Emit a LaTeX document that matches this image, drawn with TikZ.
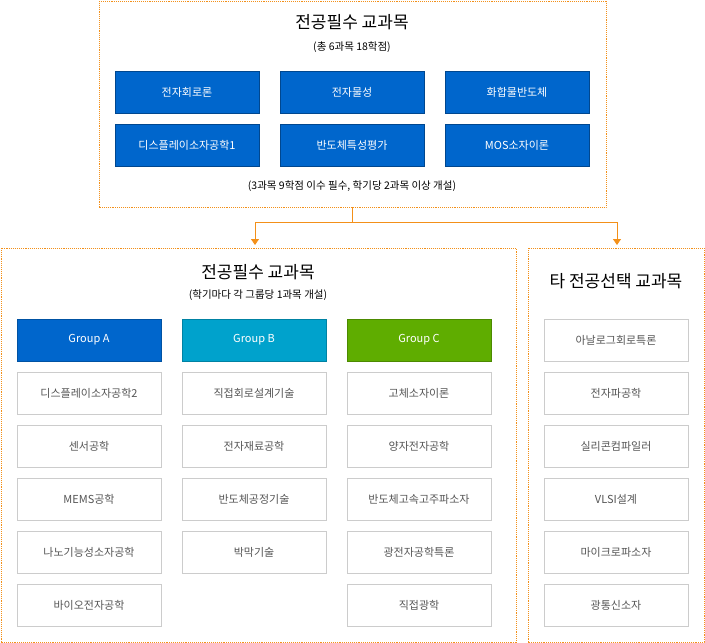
\documentclass[tikz,border=0pt]{standalone}
\usepackage{fontspec}
\setmainfont{Noto Sans CJK KR}
\usetikzlibrary{positioning, arrows.meta}
\definecolor{corange}{HTML}{F39019}
\definecolor{cblue}{HTML}{0066CC}
\definecolor{ccyan}{HTML}{00A2CC}
\definecolor{cgreen}{HTML}{5FAD00}
\definecolor{cgrey}{HTML}{CCCCCC}
\definecolor{ctext}{HTML}{555555}

\begin{document}
\begin{tikzpicture}[x=1pt, y=-1pt,
        frame/.style={draw=corange, densely dotted, line width=0.9pt},
        core/.style={draw=cblue!70!black, fill=cblue, text=white, minimum width=144pt, minimum height=42pt, font=\fontsize{11}{13}\selectfont, inner sep=0pt},
        grp/.style={core, draw=#1!80!black, fill=#1},
        item/.style={draw=cgrey, line width=0.8pt, text=ctext, minimum width=144pt, minimum height=42pt, font=\fontsize{11}{13}\selectfont, inner sep=0pt},
        title/.style={font=\fontsize{17}{20}\selectfont},
        note/.style={font=\fontsize{10.5}{12}\selectfont},
        >={Triangle[width=8pt, length=6pt]}]

        \useasboundingbox (0,0) rectangle (705,643);

        % 상단 박스
        \draw[frame] (99,1) rectangle (606,207);
        \node (topTitle) [title] at (352,22) {전공필수 교과목};
        \node (topSub) [note] at (352,47) {(총 6과목 18학점)};
        \node (c1) [core] at (187,92) {전자회로론};
        \node (c2) [core] at (352,92) {전자물성};
        \node (c3) [core] at (517,92) {화합물반도체};
        \node (c4) [core] at (187,145) {디스플레이소자공학1};
        \node (c5) [core] at (352,145) {반도체특성평가};
        \node (c6) [core] at (517,145) {MOS소자이론};
        \node (topNote) [note] at (352,186) {(3과목 9학점 이수 필수, 학기당 2과목 이상 개설)};

        % 연결선
        \coordinate (split) at (352,207);
        \coordinate (leftIn) at (255,245);
        \coordinate (rightIn) at (617,245);
        \draw[corange, line width=0.9pt] (split) -- ++(0,15) coordinate (mid);
        \draw[->, corange, line width=0.9pt] (mid) -| (leftIn);
        \draw[->, corange, line width=0.9pt] (mid) -| (rightIn);

        % 왼쪽 박스
        \draw[frame] (1,248) rectangle (516,642);
        \node (leftTitle) [title] at (258,272) {전공필수 교과목};
        \node (leftSub) [note] at (258,295) {(학기마다 각 그룹당 1과목 개설)};
        \node (gA) [grp=cblue] at (89,340) {Group A};
        \node (gB) [grp=ccyan] at (254,340) {Group B};
        \node (gC) [grp=cgreen] at (419,340) {Group C};

        \foreach \txt [count=\i] in {디스플레이소자공학2, 센서공학, MEMS공학, 나노기능성소자공학, 바이오전자공학}
            \node (a\i) [item] at (89,340+53*\i) {\txt};
        \foreach \txt [count=\i] in {직접회로설계기술, 전자재료공학, 반도체공정기술, 박막기술}
            \node (b\i) [item] at (254,340+53*\i) {\txt};
        \foreach \txt [count=\i] in {고체소자이론, 양자전자공학, 반도체고속고주파소자, 광전자공학특론, 직접광학}
            \node (cc\i) [item] at (419,340+53*\i) {\txt};

        % 오른쪽 박스
        \draw[frame] (528,248) rectangle (704,642);
        \node (rightTitle) [title] at (616,281) {타 전공선택 교과목};
        \foreach \txt [count=\i] in {아날로그회로특론, 전자파공학, 실리콘컴파일러, VLSI설계, 마이크로파소자, 광통신소자}
            \node (r\i) [item] at (616,287+53*\i) {\txt};
\end{tikzpicture}
\end{document}
